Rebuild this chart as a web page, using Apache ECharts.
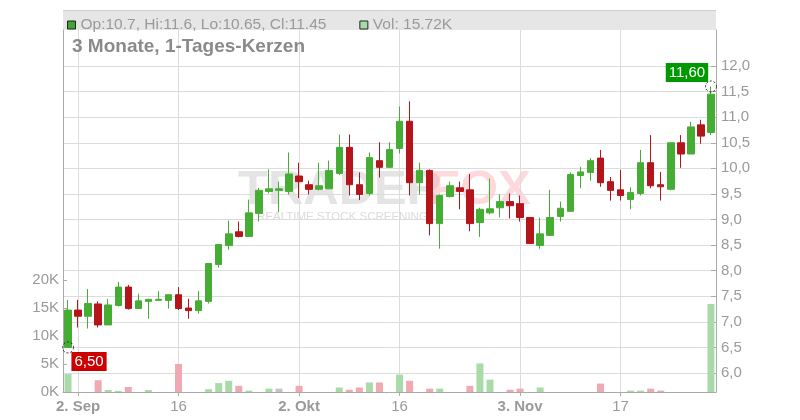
<!DOCTYPE html>
<html><head><meta charset="utf-8">
<script src="https://cdn.jsdelivr.net/npm/echarts@6/dist/echarts.min.js"></script>
<style>html,body{margin:0;padding:0;background:#fff}#c{width:800px;height:420px}</style>
</head><body><div id="c"></div>
<script>
const dates = [
 '2025-09-01','2025-09-02','2025-09-03','2025-09-04','2025-09-05','2025-09-08','2025-09-09','2025-09-10','2025-09-11','2025-09-12',
 '2025-09-15','2025-09-16','2025-09-17','2025-09-18','2025-09-19','2025-09-22','2025-09-23','2025-09-24','2025-09-25','2025-09-26',
 '2025-09-29','2025-09-30','2025-10-01','2025-10-02','2025-10-03','2025-10-06','2025-10-07','2025-10-08','2025-10-09','2025-10-10',
 '2025-10-13','2025-10-14','2025-10-15','2025-10-16','2025-10-17','2025-10-20','2025-10-21','2025-10-22','2025-10-23','2025-10-24',
 '2025-10-27','2025-10-28','2025-10-29','2025-10-30','2025-10-31','2025-11-03','2025-11-04','2025-11-05','2025-11-06','2025-11-07',
 '2025-11-10','2025-11-11','2025-11-12','2025-11-13','2025-11-14','2025-11-17','2025-11-18','2025-11-19','2025-11-20','2025-11-21',
 '2025-11-24','2025-11-25','2025-11-26','2025-11-27','2025-11-28'
];
const opens = [
 6.50,7.23,7.11,7.35,6.94,7.32,7.68,7.26,7.40,7.42,
 7.42,7.53,7.27,7.22,7.40,8.12,8.49,8.76,8.67,9.12,
 9.55,9.57,9.55,9.85,9.68,9.59,9.60,9.90,10.41,9.68,
 9.51,10.15,10.02,10.39,10.92,9.72,9.96,8.92,9.45,9.62,
 9.58,8.94,9.13,9.23,9.35,9.31,9.04,8.49,8.69,9.06,
 9.16,9.86,9.92,10.20,9.74,9.58,9.39,9.51,10.11,9.68,
 9.59,10.50,10.28,10.85,10.70
];
const closes = [
 7.23,7.11,7.36,6.94,7.33,7.68,7.26,7.41,7.44,7.44,
 7.53,7.26,7.22,7.41,8.14,8.51,8.72,8.67,9.13,9.57,
 9.60,9.60,9.89,9.74,9.59,9.66,9.96,10.41,9.68,9.49,
 10.21,10.02,10.37,10.92,9.72,9.96,8.92,9.47,9.66,9.55,
 8.92,9.20,9.21,9.35,9.27,9.04,8.53,8.72,9.04,9.22,
 9.88,9.93,10.15,9.72,9.57,9.47,9.53,10.11,9.66,9.64,
 10.50,10.28,10.81,10.63,11.45
];
const lows = [
 6.50,6.89,6.87,6.89,6.94,7.30,7.24,7.26,7.06,7.42,
 7.26,7.23,7.06,7.16,7.36,8.06,8.41,8.65,8.67,8.96,
 9.51,9.14,9.49,9.42,9.49,9.57,9.60,9.87,9.47,9.38,
 9.47,9.82,10.02,10.29,9.47,9.49,8.69,8.43,9.43,9.20,
 8.77,8.66,9.10,9.04,9.02,8.96,8.53,8.43,8.69,8.96,
 9.16,9.61,9.76,9.64,9.37,9.37,9.20,9.47,9.61,9.37,
 9.57,10.01,10.28,10.48,10.65
];
const highs = [
 7.43,7.43,7.64,7.40,7.45,7.78,7.72,7.55,7.45,7.60,
 7.53,7.68,7.45,7.60,8.14,8.51,8.98,8.96,9.39,9.62,
 9.98,9.74,10.31,10.11,9.76,10.11,10.15,10.66,10.66,9.92,
 10.31,10.51,10.51,11.21,11.31,10.11,9.98,9.49,9.74,9.74,
 9.89,9.23,9.80,9.49,9.51,9.47,9.04,9.04,9.58,9.35,
 9.92,10.03,10.20,10.36,9.83,9.97,9.63,10.36,10.65,9.93,
 10.50,10.65,10.91,10.95,11.60
];
// volume in thousands of shares
const volumes = [
 3.2,0,0,2.1,0.35,0.2,0.9,0,0.35,0,
 0,5.0,0,0,0.5,1.6,2.0,1.1,0.25,0,
 0.6,0.6,0,1.1,0,0,0,0.8,0.4,0.8,
 1.7,1.7,0,3.1,2.0,0,0.6,0.6,0,0,
 1.1,5.1,2.2,0,0.4,0.6,0,0.8,0,0,
 0,0,0,1.5,0,0,0.25,0.25,0.6,0.25,
 0,0,0,0,15.72
];
const unchangedDays = ['2025-09-30'];
const priceTicks = [6.0,6.5,7.0,7.5,8.0,8.5,9.0,9.5,10.0,10.5,11.0,11.5,12.0];
const volumeTicks = [0,5,10,15,20];
const xTickLabels = {
 '2025-09-02':'2. Sep','2025-09-16':'16','2025-10-02':'2. Okt',
 '2025-10-16':'16','2025-11-03':'3. Nov','2025-11-17':'17'
};
const monthLabels = ['2. Sep','2. Okt','3. Nov'];
const headerCandle = 'Op:10.7, Hi:11.6, Lo:10.65, Cl:11.45';
const headerVolume = 'Vol: 15.72K';
const chartTitle = '3 Monate, 1-Tages-Kerzen';

const GREEN = '#46ad34', RED = '#b3151b';
const FONT = '"Liberation Sans", Arial, sans-serif';
const isTick = (i, v) => xTickLabels[v] !== undefined;

let iMax = 0, iMin = 0;
highs.forEach((h, i) => { if (h > highs[iMax]) iMax = i; });
lows.forEach((l, i) => { if (l < lows[iMin]) iMin = i; });
const fmt2 = v => v.toFixed(2).replace('.', ',');

const chart = echarts.init(document.getElementById('c'), null, {renderer: 'canvas'});
chart.setOption({
  animation: false,
  backgroundColor: '#fff',
  textStyle: {fontFamily: FONT},
  graphic: [
    {type: 'rect', z: 0, silent: true, shape: {x: 63, y: 10, width: 653, height: 20}, style: {fill: '#e6e6e6'}},
    {type: 'line', z: 0, silent: true, shape: {x1: 63, y1: 10.5, x2: 716, y2: 10.5}, style: {stroke: '#cfcfcf', lineWidth: 1}},
    {type: 'text', z: 0, silent: true, left: 238, top: 166, style: {text: 'TRADER', fill: 'rgba(205,205,205,0.55)', font: 'bold 49px "Liberation Sans", Arial'}},
    {type: 'text', z: 0, silent: true, left: 430, top: 166, style: {text: 'FOX', fill: 'rgba(250,170,182,0.45)', font: 'bold 49px "Liberation Sans", Arial'}},
    {type: 'text', z: 0, silent: true, left: 257, top: 211, style: {text: 'REALTIME STOCK SCREENING', fill: 'rgba(190,190,190,0.55)', font: '11.5px "Liberation Sans", Arial'}}
  ],
  title: {
    text: chartTitle, left: 72, top: 37, padding: 0,
    textStyle: {fontSize: 19, fontWeight: 'bold', color: '#8a8a8a', fontFamily: FONT}
  },
  legend: {
    left: 67, top: 17, padding: 0, itemWidth: 8, itemHeight: 8, itemGap: 33,
    selectedMode: false,
    textStyle: {color: '#9a9a9a', fontSize: 15.5, fontFamily: FONT},
    data: [
      {name: headerCandle, icon: 'rect', itemStyle: {color: '#3fa535', borderColor: '#222', borderWidth: 1}},
      {name: headerVolume, icon: 'rect', itemStyle: {color: '#a9dba9', borderColor: '#222', borderWidth: 1}}
    ]
  },
  grid: [
    {left: 63, right: 84, top: 30, bottom: 28},
    {left: 63, right: 84, top: 30, bottom: 28}
  ],
  xAxis: [
    {type: 'category', gridIndex: 0, data: dates, boundaryGap: true, show: false},
    {type: 'category', gridIndex: 1, data: dates, boundaryGap: true,
     axisLine: {show: true, lineStyle: {color: '#aaa'}},
     axisTick: {show: true, alignWithLabel: true, interval: isTick, length: 4, lineStyle: {color: '#aaa'}},
     axisLabel: {interval: isTick, margin: 7, color: '#9a9a9a', fontSize: 15, fontFamily: FONT,
       formatter: v => monthLabels.includes(xTickLabels[v]) ? '{b|' + xTickLabels[v] + '}' : '{n|' + (xTickLabels[v] || '') + '}',
       rich: {b: {fontWeight: 'bold', fontSize: 15, color: '#9a9a9a', fontFamily: FONT}, n: {fontSize: 15, color: '#9a9a9a', fontFamily: FONT}}},
     splitLine: {show: true, interval: isTick, alignWithLabel: true, lineStyle: {color: '#dcdcdc'}}}
  ],
  yAxis: [
    {type: 'value', gridIndex: 0, position: 'right', min: 5.629, max: 12.704,
     axisLine: {show: true, lineStyle: {color: '#aaa'}},
     axisTick: {show: true, inside: true, length: 5, customValues: priceTicks, lineStyle: {color: '#aaa'}},
     axisLabel: {customValues: priceTicks, margin: 5, color: '#9a9a9a', fontSize: 15, fontFamily: FONT,
       formatter: v => v.toFixed(1).replace('.', ',')},
     splitLine: {show: true, lineStyle: {color: '#dcdcdc'}}},
    {type: 'value', gridIndex: 1, position: 'left', min: 0, max: 64.64,
     axisLine: {show: true, lineStyle: {color: '#aaa'}},
     axisTick: {show: true, inside: true, length: 4, customValues: volumeTicks, lineStyle: {color: '#aaa'}},
     axisLabel: {customValues: volumeTicks, margin: 4, color: '#9a9a9a', fontSize: 15, fontFamily: FONT,
       formatter: v => v + 'K'},
     splitLine: {show: false}}
  ],
  series: [
    {
      name: headerVolume, type: 'bar', xAxisIndex: 1, yAxisIndex: 1, barWidth: 7, z: 1,
      data: volumes.map((v, i) => ({
        value: v,
        itemStyle: {color: unchangedDays.includes(dates[i]) ? '#c4c4c4' : (closes[i] >= opens[i] ? '#a9dba9' : '#f0a9b0')}
      })),
      itemStyle: {color: '#a9dba9'}
    },
    {
      name: headerCandle, type: 'candlestick', xAxisIndex: 0, yAxisIndex: 0, barWidth: 7, z: 3,
      data: dates.map((d, i) => [opens[i], closes[i], lows[i], highs[i]]),
      itemStyle: {color: GREEN, color0: RED, borderColor: GREEN, borderColor0: RED, borderWidth: 1},
      markPoint: {
        silent: true,
        data: [
          {coord: [dates[iMax], highs[iMax]], value: highs[iMax], symbol: 'circle', symbolSize: 11,
           itemStyle: {color: 'rgba(255,255,255,0)', borderColor: '#222', borderWidth: 1, borderType: [2, 2]},
           label: {show: true, position: 'inside', offset: [-24, -14], formatter: p => fmt2(p.value),
             backgroundColor: '#009a00', color: '#fff', fontSize: 15, padding: [2, 3], fontFamily: FONT}},
          {coord: [dates[iMin], lows[iMin]], value: lows[iMin], symbol: 'circle', symbolSize: 11,
           itemStyle: {color: 'rgba(255,255,255,0)', borderColor: '#222', borderWidth: 1, borderType: [2, 2]},
           label: {show: true, position: 'inside', offset: [21, 14], formatter: p => fmt2(p.value),
             backgroundColor: '#cc0000', color: '#fff', fontSize: 15, padding: [2, 3], fontFamily: FONT}}
        ]
      }
    }
  ]
});
</script></body></html>
